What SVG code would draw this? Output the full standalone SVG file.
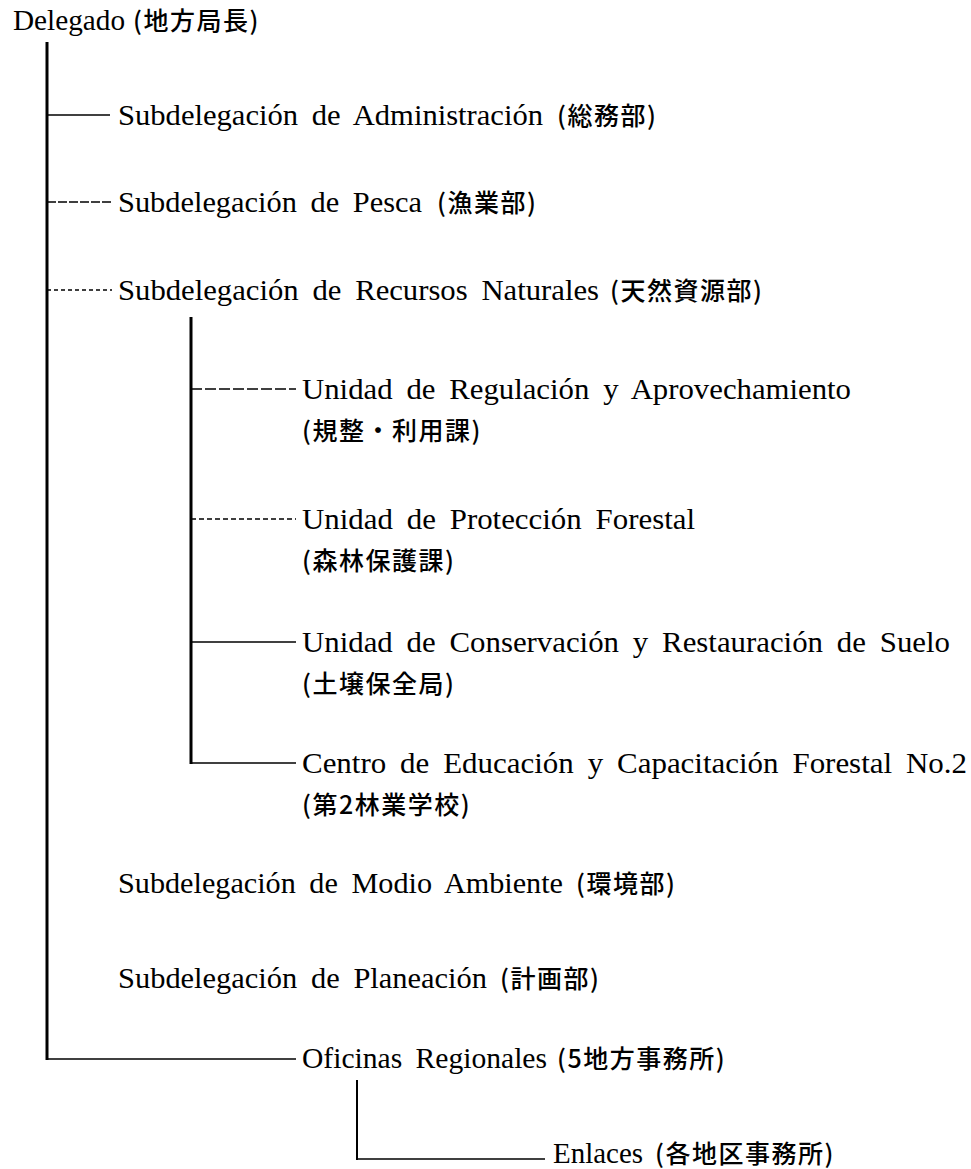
<svg xmlns="http://www.w3.org/2000/svg" width="971" height="1169" viewBox="0 0 971 1169">
<style>
.lat{font-family:"Liberation Serif","Noto Sans CJK JP",serif;font-size:30px;word-spacing:6px;fill:#000}
.jp{font-family:"Noto Sans CJK JP",sans-serif;font-size:25px;font-weight:500;letter-spacing:1.5px;fill:#000}
.vl{stroke:#000;stroke-width:3;fill:none}
.vt{stroke:#000;stroke-width:2;fill:none}
.hl{stroke:#000;stroke-width:1.5;fill:none}
.d1{stroke-dasharray:9 2}
.d2{stroke-dasharray:4 3}
.d3{stroke-dasharray:11 3}
.d4{stroke-dasharray:5 3}
</style>
<rect width="971" height="1169" fill="#fff"/>
<g id="connectors">
<line class="vl" x1="47" y1="42" x2="47" y2="1060"/>
<line class="hl" x1="47" y1="115" x2="110" y2="115"/>
<line class="hl d1" x1="47" y1="202" x2="112" y2="202"/>
<line class="hl d2" x1="47" y1="290" x2="112" y2="290"/>
<line class="vl" x1="191" y1="317" x2="191" y2="764"/>
<line class="hl d3" x1="191" y1="389" x2="296" y2="389"/>
<line class="hl d4" x1="191" y1="519" x2="296" y2="519"/>
<line class="hl" x1="191" y1="642" x2="296" y2="642"/>
<line class="hl" x1="191" y1="763" x2="296" y2="763"/>
<line class="hl" x1="47" y1="1059" x2="296" y2="1059" stroke-width="2"/>
<line class="vt" x1="357" y1="1080" x2="357" y2="1160"/>
<line class="hl" x1="357" y1="1159" x2="545" y2="1159"/>
</g>
<g id="delegado">
<text class="lat" x="13" y="30" textLength="112" lengthAdjust="spacingAndGlyphs">Delegado</text>
<text class="jp" x="133" y="30">(地方局長)</text>
</g>
<g id="administracion">
<text class="lat" x="118" y="125" textLength="425" lengthAdjust="spacingAndGlyphs">Subdelegación de Administración</text>
<text class="jp" x="557" y="125">(総務部)</text>
</g>
<g id="pesca">
<text class="lat" x="118" y="212" textLength="304" lengthAdjust="spacingAndGlyphs">Subdelegación de Pesca</text>
<text class="jp" x="437" y="212">(漁業部)</text>
</g>
<g id="recursos">
<text class="lat" x="118" y="300" textLength="481" lengthAdjust="spacingAndGlyphs">Subdelegación de Recursos Naturales</text>
<text class="jp" x="610" y="300">(天然資源部)</text>
</g>
<g id="regulacion">
<text class="lat" x="302" y="399" textLength="549" lengthAdjust="spacingAndGlyphs">Unidad de Regulación y Aprovechamiento</text>
<text class="jp" x="302" y="440">(規整・利用課)</text>
</g>
<g id="proteccion">
<text class="lat" x="302" y="529" textLength="393" lengthAdjust="spacingAndGlyphs">Unidad de Protección Forestal</text>
<text class="jp" x="302" y="570">(森林保護課)</text>
</g>
<g id="conservacion">
<text class="lat" x="302" y="652" textLength="648" lengthAdjust="spacingAndGlyphs">Unidad de Conservación y Restauración de Suelo</text>
<text class="jp" x="302" y="693">(土壌保全局)</text>
</g>
<g id="centro">
<text class="lat" x="302" y="773" textLength="665" lengthAdjust="spacingAndGlyphs">Centro de Educación y Capacitación Forestal No.2</text>
<text class="jp" x="302" y="814">(第2林業学校)</text>
</g>
<g id="medio-ambiente">
<text class="lat" x="118" y="893" textLength="445" lengthAdjust="spacingAndGlyphs">Subdelegación de Modio Ambiente</text>
<text class="jp" x="576" y="893">(環境部)</text>
</g>
<g id="planeacion">
<text class="lat" x="118" y="988" textLength="369" lengthAdjust="spacingAndGlyphs">Subdelegación de Planeación</text>
<text class="jp" x="500" y="988">(計画部)</text>
</g>
<g id="oficinas">
<text class="lat" x="302" y="1068" textLength="245" lengthAdjust="spacingAndGlyphs">Oficinas Regionales</text>
<text class="jp" x="557" y="1068">(5地方事務所)</text>
</g>
<g id="enlaces">
<text class="lat" x="553" y="1163" textLength="90" lengthAdjust="spacingAndGlyphs">Enlaces</text>
<text class="jp" x="655" y="1163">(各地区事務所)</text>
</g>
</svg>
